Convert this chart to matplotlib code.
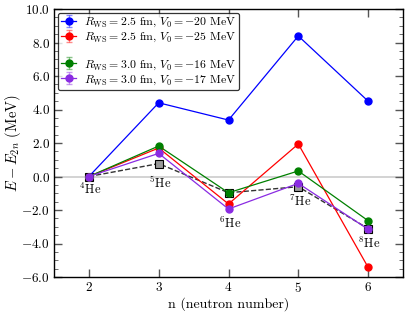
import matplotlib
matplotlib.use("Agg")
import matplotlib.pyplot as plt
from matplotlib.ticker import MultipleLocator, FuncFormatter

plt.rcParams['font.family'] = 'serif'
plt.rcParams['font.serif'] = ['cmr10', 'DejaVu Serif']
plt.rcParams['mathtext.fontset'] = 'cm'
plt.rcParams['axes.unicode_minus'] = True

n = [2, 3, 4, 5, 6]
exp_vals = [0.0, 0.77, -0.97, -0.61, -3.11]
blue_vals = [0.0, 4.40, 3.37, 8.39, 4.50]
red_vals = [0.0, 1.70, -1.64, 1.94, -5.42]
green_vals = [0.0, 1.82, -0.97, 0.33, -2.64]
purple_vals = [0.0, 1.38, -1.94, -0.41, -3.15]

labels = [r'$R_{\rm WS}=2.5$ fm, $V_0=-20$ MeV',
          r'$R_{\rm WS}=2.5$ fm, $V_0=-25$ MeV',
          r'$R_{\rm WS}=3.0$ fm, $V_0=-16$ MeV',
          r'$R_{\rm WS}=3.0$ fm, $V_0=-17$ MeV']
iso_labels = [r'$^{4}$He', r'$^{5}$He', r'$^{6}$He', r'$^{7}$He', r'$^{8}$He']
iso_y = [-0.8, -0.4, -2.8, -1.5, -4.0]

fig = plt.figure(figsize=(4.15, 3.12), dpi=100)
ax = fig.add_axes([54/415, 35/312, 349/415, 268/312])

ax.axhline(0, color='#cccccc', lw=1.2, zorder=0)

# experimental
ax.plot(n, exp_vals, ls='--', color='#333333', lw=1.0, marker='s', ms=5.5,
        mfc='#999999', mec='black', mew=0.8, zorder=1)

colors = ['blue', 'red', 'green', '#8a2be2']
series = [blue_vals, red_vals, green_vals, purple_vals]
handles = []
for vals, c, lab in zip(series, colors, labels):
    h = ax.errorbar(n, vals, yerr=[0.0]*len(n), color=c, lw=0.9, marker='o', ms=5,
                    ecolor=matplotlib.colors.to_rgba(c, 0.45), capsize=2, zorder=3, label=lab)
    handles.append(h)

for x, y, t in zip(n, iso_y, iso_labels):
    ax.text(x + 0.02, y, t, ha='center', va='center', fontsize=9)

ax.set_xlim(1.5, 6.5)
ax.set_ylim(-6, 10)
ax.xaxis.set_major_locator(MultipleLocator(1))
ax.yaxis.set_major_locator(MultipleLocator(2))
ax.yaxis.set_minor_locator(MultipleLocator(0.5))
ax.yaxis.set_major_formatter(FuncFormatter(lambda v, p: r'$%.1f$' % v))
ax.xaxis.set_major_formatter(FuncFormatter(lambda v, p: r'$%d$' % v))
ax.tick_params(which='both', direction='in', top=True, right=True, labelsize=9.5,
               color='#555555')
ax.tick_params(which='major', length=6, width=1, pad=3)
ax.tick_params(which='minor', length=3, width=0.6)
for s in ax.spines.values():
    s.set_linewidth(1.0)

ax.set_xlabel('n (neutron number)', fontsize=10)
ax.set_ylabel(r'$E-E_{2n}$ (MeV)', fontsize=10.5)
ax.xaxis.set_label_coords(0.5, -0.075)
ax.yaxis.set_label_coords(-0.09, 0.5)

blank, = ax.plot([], [], color='none', label=' ')
leg = ax.legend([handles[0], handles[1], blank, handles[2], handles[3]],
                [labels[0], labels[1], ' ', labels[2], labels[3]],
                loc='upper left', fontsize=8.5, frameon=True, fancybox=True,
                edgecolor='black', handlelength=1.3, handletextpad=0.6,
                labelspacing=0.15, borderpad=0.3, borderaxespad=0.3)
leg.get_frame().set_linewidth(0.9)

fig.savefig('out.png', dpi=100)
